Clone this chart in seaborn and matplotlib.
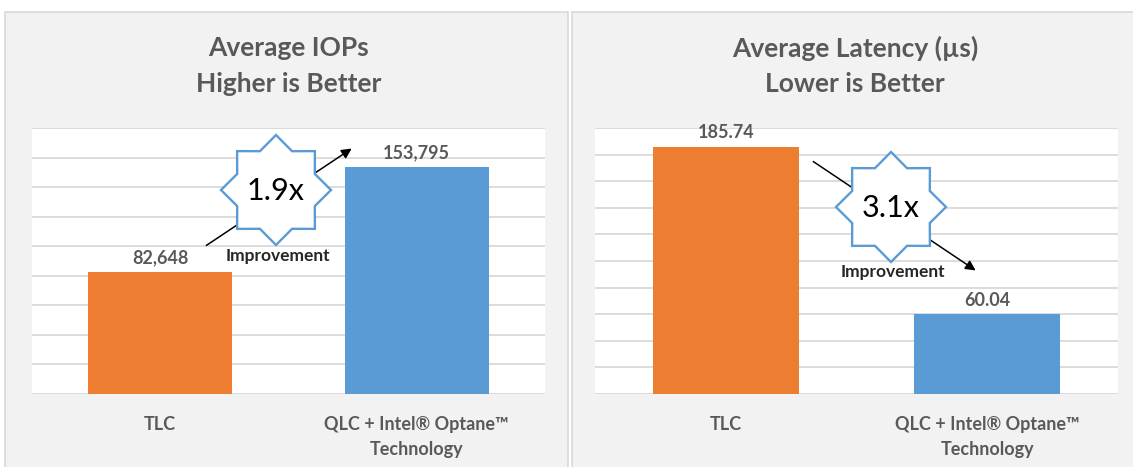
import numpy as np
import pandas as pd
import matplotlib
matplotlib.use("Agg")
import matplotlib.pyplot as plt
import seaborn as sns
from matplotlib.patches import Rectangle, Polygon, FancyArrowPatch

# datos
categorias = ["TLC", "QLC + Intel® Optane™\nTechnology"]
iops = [82648, 153795]
latencia = [185.74, 60.04]
etiquetas_iops = ["82,648", "153,795"]
etiquetas_lat = ["185.74", "60.04"]
colores = ["#ED7D31", "#5B9BD5"]

sns.set_theme(style="white")
plt.rcParams["font.family"] = ["Lato", "DejaVu Sans"]

W, H = 1133, 467
GRIS = "#595959"


def px(x, y):
    # pixeles (origen arriba-izquierda) -> fraccion de figura
    return x / W, (H - y) / H


fig = plt.figure(figsize=(W / 100, H / 100), dpi=100, facecolor="white")

# paneles grises
for x0, x1 in [(5, 568), (572, 1140)]:
    fx0, fy0 = px(x0, 480)
    fx1, fy1 = px(x1, 12)
    fig.add_artist(Rectangle((fx0, fy0), fx1 - fx0, fy1 - fy0, transform=fig.transFigure,
                             facecolor="#F2F2F2", edgecolor="#D9D9D9", lw=1.2, zorder=0))


def panel(left, right, valores, etiquetas, ymax, paso, titulo, cx):
    l, b = px(left, 394)
    r, t = px(right, 128)
    ax = fig.add_axes([l, b, r - l, t - b])
    df = pd.DataFrame({"cat": categorias, "val": valores})
    sns.barplot(data=df, x="cat", y="val", hue="cat", palette=colores, width=0.56,
                saturation=1, legend=False, ax=ax, zorder=3, edgecolor="none")
    ax.set_facecolor("white")
    ax.set_ylim(0, ymax)
    ax.set_xlim(-0.5, 1.5)
    ax.set_yticks(np.arange(0, ymax + 1, paso))
    ax.yaxis.grid(True, color="#D9D9D9", lw=1.3)
    ax.tick_params(axis="y", left=False, labelleft=False)
    ax.tick_params(axis="x", bottom=False, pad=10)
    for s in ax.spines.values():
        s.set_visible(False)
    ax.set_xlabel("")
    ax.set_ylabel("")
    for lab in ax.get_xticklabels():
        lab.set_fontsize(13)
        lab.set_fontweight("bold")
        lab.set_color(GRIS)
        lab.set_linespacing(1.55)
        lab.set_verticalalignment("top")
    for i, (v, e) in enumerate(zip(valores, etiquetas)):
        ax.annotate(e, (i, v), xytext=(0, 4), textcoords="offset points", ha="center",
                    va="bottom", fontsize=13, fontweight="bold", color=GRIS)
    fx, fy = px(cx, 48)
    fig.text(fx, fy, titulo[0], ha="center", va="center", fontsize=19,
             fontweight="bold", color=GRIS)
    fx, fy = px(cx, 84)
    fig.text(fx, fy, titulo[1], ha="center", va="center", fontsize=19,
             fontweight="bold", color=GRIS)
    return ax


panel(32, 545, iops, etiquetas_iops, 180000, 20000, ["Average IOPs", "Higher is Better"], 289)
panel(595, 1118, latencia, etiquetas_lat, 200, 20, ["Average Latency (µs)", "Lower is Better"], 855)


def estrella(cx, cy, texto, imp_y, flecha):
    # flecha negra detras de la estrella
    fig.add_artist(FancyArrowPatch(
        px(*flecha[0]), px(*flecha[1]), transform=fig.transFigure,
        arrowstyle="-|>", mutation_scale=15, color="black", lw=1.1, zorder=5))
    ang = np.pi / 2 + np.arange(16) * np.pi / 8
    rad = np.where(np.arange(16) % 2 == 0, 55, 42)
    pts = [px(cx + r * np.cos(a), cy - r * np.sin(a)) for r, a in zip(rad, ang)]
    fig.add_artist(Polygon(pts, closed=True, transform=fig.transFigure, facecolor="white",
                           edgecolor="#5B9BD5", lw=1.7, zorder=6))
    fx, fy = px(cx, cy + 1)
    fig.text(fx, fy, texto, ha="center", va="center", fontsize=22, color="black", zorder=7)
    fx, fy = px(cx + 2, imp_y)
    fig.text(fx, fy, "Improvement", ha="center", va="center", fontsize=12.5,
             fontweight="bold", color="#262626", zorder=7)


estrella(276, 190, "1.9x", 256, [(204, 247), (354, 147)])
estrella(891, 207, "3.1x", 272, [(811, 160), (978, 272)])

fig.savefig("out.png", dpi=100, facecolor="white")
